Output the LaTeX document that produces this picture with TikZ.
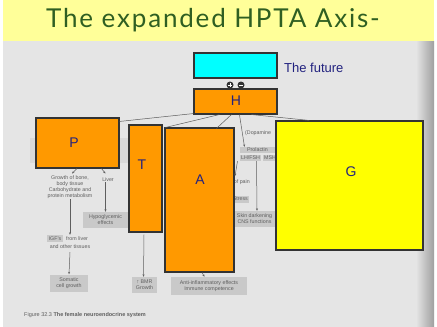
\documentclass[tikz,border=0pt]{standalone}
\usepackage{fontspec}
\setmainfont{Liberation Sans}
\newfontfamily\titlefont[LetterSpace=7]{Lato}
\usetikzlibrary{arrows.meta}

\definecolor{bandyellow}{HTML}{FFFF99}
\definecolor{titlegreen}{HTML}{2F5F22}
\definecolor{pagegrey}{HTML}{E5E5E5}
\definecolor{labelgrey}{HTML}{C9C9C9}
\definecolor{inkgrey}{HTML}{5E5E5E}
\definecolor{edge}{HTML}{333333}
\definecolor{hormone}{HTML}{FF9900}
\definecolor{futurecyan}{HTML}{00FFFF}
\definecolor{gonad}{HTML}{FFFF00}
\definecolor{letterblue}{HTML}{22227F}

\tikzset{
  block/.style={draw=edge, line width=1.1pt, inner sep=0pt, anchor=center},
  letter/.style={text=letterblue, font=\fontsize{14}{14}\selectfont},
  scan/.style={text=inkgrey, font=\fontsize{5.3}{6}\selectfont, inner sep=0pt, align=center},
  scanbox/.style={fill=labelgrey, text=inkgrey, font=\fontsize{5.3}{6}\selectfont, inner sep=1pt, align=center},
  link/.style={draw=edge!80, line width=0.5pt},
  flow/.style={draw=inkgrey, line width=0.5pt, -{Stealth[length=2.5pt,width=2pt]}},
  sign/.style={circle, fill=edge, minimum size=7pt, inner sep=0pt}
}

\begin{document}
\begin{tikzpicture}[x=1pt,y=-1pt]
\useasboundingbox (0,0) rectangle (437,327);
% page and title band
\fill[white] (0,0) rectangle (437,327);
\fill[pagegrey] (3,41) rectangle (434,327);
\shade[left color=pagegrey, right color=gray!75] (416,41) rectangle (434,327);
\fill[bandyellow] (3,0) rectangle (434,41);
\node[text=titlegreen, font=\titlefont\fontsize{26}{26}\selectfont, inner sep=0pt]
  (title) at (213,20) {The expanded HPTA Axis-};

% faint printed labels underneath the coloured blocks
\fill[labelgrey!70] (30,138) rectangle (130,163);
\node[scan, anchor=west] (dopa) at (245,133) {(Dopamine};
\node[scanbox, minimum width=35pt, minimum height=6pt] (prl) at (257.5,150) {Prolactin};
\node[scanbox, minimum width=21pt, minimum height=6pt] (lhfsh) at (250.5,158) {LH/FSH};
\node[scanbox, minimum width=14pt, minimum height=6pt] (msh) at (270,158) {MSH};
\node[scan, anchor=east] (pain) at (250,182) {Relief of pain};
\node[scanbox, anchor=east, minimum height=7pt] (stress) at (249,199) {Stress};
\node[scanbox, minimum width=44pt, minimum height=16pt] (skin) at (254.5,219) {Skin darkening\\CNS functions};

\node[scan] (growth) at (70,187.5) {Growth of bone,\\body tissue\\Carbohydrate and\\protein metabolism};
\node[scan] (liver) at (108,180) {Liver};
\node[scanbox, minimum width=16pt, minimum height=7pt] (igf) at (55,238.5) {IGF's};
\node[scan, anchor=west] (igfsrc) at (66,238.5) {from liver};
\node[scan] (igfsrc2) at (70,247) {and other tissues};
\node[scanbox, minimum width=38pt, minimum height=17pt] (somatic) at (69,283) {Somatic\\cell growth};
\node[scanbox, minimum width=45pt, minimum height=16pt] (hypo) at (105.5,220) {Hypoglycemic\\effects};
\node[scanbox, minimum width=25pt, minimum height=16pt] (bmr) at (144.5,285) {↑ BMR\\Growth};
\node[scanbox, minimum width=76pt, minimum height=18pt] (immune) at (209,286) {Anti-inflammatory effects\\Immune competence};
\node[scan, anchor=west, font=\fontsize{5.5}{6}\selectfont] (caption) at (24,315)
  {Figure 32.3 \textbf{The female neuroendocrine system}};

% coloured blocks
\node[block, fill=futurecyan, minimum width=83pt, minimum height=25pt] (future) at (235.5,65.5) {};
\node[text=letterblue, anchor=west, font=\fontsize{13}{13}\selectfont, inner sep=0pt] (futuretxt) at (284,68) {The future};
\node[block, fill=hormone, minimum width=83pt, minimum height=25pt] (H) at (235.5,101.5) {};
\node[block, fill=hormone, minimum width=83pt, minimum height=50pt] (P) at (77.5,143) {};
\node[block, fill=hormone, minimum width=33pt, minimum height=107pt] (T) at (145.5,178.5) {};
\node[block, fill=hormone, minimum width=69pt, minimum height=144pt] (A) at (199.5,200) {};
\node[block, fill=gonad, minimum width=147pt, minimum height=129pt] (G) at (349.5,185.5) {};

\node[letter] (Hl) at (236,101) {H};
\node[letter] (Pl) at (74,143) {P};
\node[letter] (Tl) at (142,165) {T};
\node[letter] (Al) at (200,180) {A};
\node[letter] (Gl) at (351,172) {G};

% feedback signs between the two top blocks
\node[sign] (plus) at (230,85) {};
\node[sign] (minus) at (241,85) {};
\draw[white, line width=0.8pt] ([xshift=-2pt]plus.center) -- ([xshift=2pt]plus.center)
  ([yshift=-2pt]plus.center) -- ([yshift=2pt]plus.center);
\draw[white, line width=0.8pt] ([xshift=-2pt]minus.center) -- ([xshift=2pt]minus.center);

% links from the hypothalamus block
\draw[link] ([yshift=1pt]H.south west) -- ([yshift=-4pt]P.north east);
\draw[link] ([xshift=26pt]H.south west) -- ([xshift=1pt]A.north west);
\draw[link] ([xshift=38pt]H.south west) -- ([xshift=52pt,yshift=-1pt]A.north west);
\draw[flow] ([xshift=46pt]H.south west) -- ([xshift=-13pt]prl.north);
\draw[link] ([xshift=58pt]H.south west) -- ([xshift=34pt]G.north west);

% printed arrows
\draw[flow] ([xshift=-13pt]lhfsh.south) to[out=-100,in=80] (235,176);
\draw[flow] ([xshift=6pt]lhfsh.south) -- ([xshift=2.5pt]skin.north);
\draw[flow] ([xshift=-0.5pt]P.south) -- ++(-5,5);
\draw[flow] ([xshift=24pt]P.south) -- ++(4,5);
\draw[flow] (growth.south) -- (igf.north -| growth.south);
\draw[flow] (liver.south -| hypo.north) -- (hypo.north);
\draw[flow] ([yshift=-3pt]igfsrc2.south) -- (somatic.north);
\draw[flow] ([xshift=-1.5pt,yshift=-2pt]T.south) -- ([xshift=-1pt]bmr.north);
\draw[flow] ([xshift=2.5pt]A.south) -- ([xshift=-4.5pt]immune.north);
\end{tikzpicture}
\end{document}
